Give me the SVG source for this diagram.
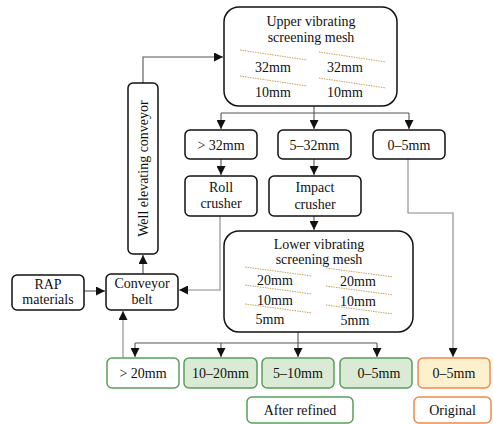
<svg xmlns="http://www.w3.org/2000/svg" width="493" height="424" viewBox="0 0 493 424" font-family="Liberation Serif, DejaVu Serif, serif">
<style>
text{font-family:'Liberation Serif','DejaVu Serif',serif;font-size:14px;fill:#111;text-anchor:middle}
.b{fill:#fff;stroke:#111;stroke-width:1.5}
.g{fill:#dbead5;stroke:#5a9e5a;stroke-width:1.5}
.gw{fill:#fff;stroke:#5a9e5a;stroke-width:1.5}
.o{fill:#fdf0cc;stroke:#f08a4b;stroke-width:1.5}
.ow{fill:#fff;stroke:#f08a4b;stroke-width:1.5}
.c{fill:none;stroke:#555;stroke-width:1.1}
.cl{fill:none;stroke:#888;stroke-width:1.1}
.s{fill:none;stroke:#c9a35a;stroke-width:1;stroke-dasharray:1.5 1}
</style>
<defs>
<marker id="ah" viewBox="0 0 10 10" refX="10" refY="5" markerWidth="9" markerHeight="9" markerUnits="userSpaceOnUse" orient="auto">
<path d="M0,0 L10,5 L0,10 z" fill="#111"/>
</marker>
</defs>
<g id="connectors">
<path class="c" d="M143,83 V57 H223" marker-end="url(#ah)"/>
<path class="c" d="M143,274 V255" marker-end="url(#ah)"/>
<path class="c" d="M84,291 H105" marker-end="url(#ah)"/>
<path class="cl" d="M220,216 V290 H179" marker-end="url(#ah)"/>
<path class="c" d="M314,106 V113"/>
<path class="c" d="M221,113 H409"/>
<path class="c" d="M221,113 V129" marker-end="url(#ah)"/>
<path class="c" d="M314,113 V129" marker-end="url(#ah)"/>
<path class="c" d="M409,113 V129" marker-end="url(#ah)"/>
<path class="c" d="M221,159 V175" marker-end="url(#ah)"/>
<path class="c" d="M314,159 V175" marker-end="url(#ah)"/>
<path class="c" d="M314,216 V230" marker-end="url(#ah)"/>
<path class="cl" d="M408,159 V213 H453 V357" marker-end="url(#ah)"/>
<path class="c" d="M298,332 V343"/>
<path class="c" d="M135,343 H377"/>
<path class="c" d="M135,343 V357" marker-end="url(#ah)"/>
<path class="c" d="M221,343 V357" marker-end="url(#ah)"/>
<path class="c" d="M298,343 V357" marker-end="url(#ah)"/>
<path class="c" d="M377,343 V357" marker-end="url(#ah)"/>
<path class="cl" d="M123,358 V311" marker-end="url(#ah)"/>
</g>
<g id="upper-mesh">
<rect class="b" x="224" y="7" width="173" height="99" rx="15"/>
<text x="311" y="26">Upper vibrating</text>
<text x="311" y="42">screening mesh</text>
<line class="s" x1="240" y1="50" x2="307" y2="60"/>
<line class="s" x1="240" y1="76" x2="307" y2="86"/>
<line class="s" x1="319" y1="52" x2="386" y2="62"/>
<line class="s" x1="319" y1="78" x2="386" y2="88"/>
<text x="273" y="72">32mm</text>
<text x="273" y="97">10mm</text>
<text x="345" y="72">32mm</text>
<text x="345" y="97">10mm</text>
</g>
<g id="well-conveyor">
<rect class="b" x="128" y="83" width="30" height="171" rx="5"/>
<text transform="translate(148,168.5) rotate(-90)">Well elevating conveyor</text>
</g>
<g id="gt32">
<rect class="b" x="185" y="130" width="72" height="29" rx="5"/>
<text x="221" y="149.5">&gt; 32mm</text>
</g>
<g id="5-32">
<rect class="b" x="278" y="130" width="73" height="29" rx="5"/>
<text x="314.5" y="149.5">5–32mm</text>
</g>
<g id="0-5top">
<rect class="b" x="373" y="130" width="72" height="29" rx="5"/>
<text x="409" y="149.5">0–5mm</text>
</g>
<g id="roll-crusher">
<rect class="b" x="185" y="176" width="72" height="40" rx="5"/>
<text x="221" y="192">Roll</text>
<text x="221" y="208">crusher</text>
</g>
<g id="impact-crusher">
<rect class="b" x="269" y="176" width="92" height="40" rx="5"/>
<text x="315" y="192">Impact</text>
<text x="315" y="209">crusher</text>
</g>
<g id="rap">
<rect class="b" x="12" y="275" width="72" height="35" rx="5"/>
<text x="48" y="289">RAP</text>
<text x="48" y="304">materials</text>
</g>
<g id="conveyor-belt">
<rect class="b" x="106" y="274" width="72" height="36" rx="5"/>
<text x="142" y="288">Conveyor</text>
<text x="142" y="304">belt</text>
</g>
<g id="lower-mesh">
<rect class="b" x="224" y="231" width="189" height="101" rx="15"/>
<text x="319" y="249">Lower vibrating</text>
<text x="319" y="264">screening mesh</text>
<line class="s" x1="245" y1="267" x2="312" y2="276"/>
<line class="s" x1="245" y1="285" x2="312" y2="294"/>
<line class="s" x1="245" y1="304" x2="312" y2="313"/>
<line class="s" x1="326" y1="268" x2="393" y2="277"/>
<line class="s" x1="326" y1="286" x2="393" y2="295"/>
<line class="s" x1="326" y1="305" x2="393" y2="314"/>
<text x="275" y="285">20mm</text>
<text x="275" y="305">10mm</text>
<text x="270" y="324">5mm</text>
<text x="358" y="286">20mm</text>
<text x="358" y="306">10mm</text>
<text x="355" y="325">5mm</text>
</g>
<g id="gt20">
<rect class="gw" x="107" y="358" width="72" height="30" rx="5"/>
<text x="143" y="378">&gt; 20mm</text>
</g>
<g id="10-20">
<rect class="g" x="184" y="358" width="73" height="30" rx="5"/>
<text x="220.5" y="378">10–20mm</text>
</g>
<g id="5-10">
<rect class="g" x="262" y="358" width="72" height="30" rx="5"/>
<text x="298" y="378">5–10mm</text>
</g>
<g id="0-5refined">
<rect class="g" x="340" y="358" width="72" height="30" rx="5"/>
<text x="379" y="378">0–5mm</text>
</g>
<g id="0-5original">
<rect class="o" x="418" y="358" width="72" height="30" rx="5"/>
<text x="454" y="378">0–5mm</text>
</g>
<g id="after-refined">
<rect class="gw" x="247" y="397" width="106" height="26" rx="5"/>
<text x="300" y="415">After refined</text>
</g>
<g id="original">
<rect class="ow" x="414" y="397" width="77" height="26" rx="5"/>
<text x="452.5" y="415">Original</text>
</g>
</svg>
